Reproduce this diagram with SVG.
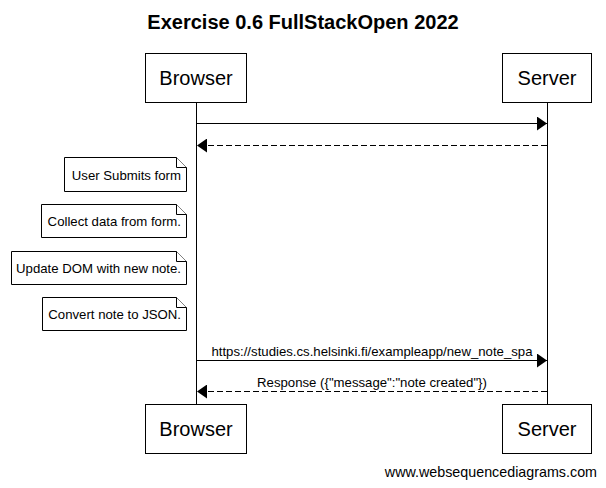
<svg xmlns="http://www.w3.org/2000/svg" width="606" height="488" viewBox="0 0 606 488">
<defs>
<style>
text{font-family:"Liberation Sans",Arial,sans-serif;fill:#000}
.box{fill:#fff;stroke:#000;stroke-width:1}
.part{font-size:20px;text-anchor:middle}
.note{font-size:13.2px;text-anchor:end}
.msg{font-size:13.2px;text-anchor:middle}
.life{stroke:#000;stroke-width:1;fill:none}
.solid{stroke:#000;stroke-width:1;fill:none}
.dash{stroke:#000;stroke-width:1;fill:none;stroke-dasharray:6,3}
.nbox{fill:#fff;stroke:#000;stroke-width:1}
</style>
<marker id="ah" markerWidth="10" markerHeight="14" refX="10" refY="7" orient="auto" markerUnits="userSpaceOnUse">
<path d="M0,0 L10,7 L0,14 Z" fill="#000"/>
</marker>
</defs>
<rect width="606" height="488" fill="#fff"/>
<text x="303" y="29" style="font-size:20px;font-weight:bold" text-anchor="middle">Exercise 0.6 FullStackOpen 2022</text>
<g id="lifelines">
<line class="life" x1="196.5" y1="102" x2="196.5" y2="404"/>
<line class="life" x1="547.5" y1="102" x2="547.5" y2="404"/>
</g>
<g id="browser-top"><rect class="box" x="145.5" y="53.5" width="101" height="49"/><text class="part" x="196" y="85">Browser</text></g>
<g id="server-top"><rect class="box" x="502.5" y="53.5" width="89" height="49"/><text class="part" x="547" y="85">Server</text></g>
<g id="browser-bottom"><rect class="box" x="145.5" y="404.5" width="101" height="49"/><text class="part" x="196" y="436">Browser</text></g>
<g id="server-bottom"><rect class="box" x="502.5" y="404.5" width="89" height="49"/><text class="part" x="547" y="436">Server</text></g>
<g id="note1"><path class="nbox" d="M64.5,157.5 H176.5 L186.5,167.5 V191.5 H64.5 Z"/><path class="nbox" d="M176.5,157.5 V167.5 H186.5" fill="none"/><text class="note" x="181" y="180">User Submits form</text></g>
<g id="note2"><path class="nbox" d="M41.5,204.5 H176.5 L186.5,214.5 V237.5 H41.5 Z"/><path class="nbox" d="M176.5,204.5 V214.5 H186.5" fill="none"/><text class="note" x="181" y="226">Collect data from form.</text></g>
<g id="note3"><path class="nbox" d="M11.5,251.5 H176.5 L186.5,261.5 V284.5 H11.5 Z"/><path class="nbox" d="M176.5,251.5 V261.5 H186.5" fill="none"/><text class="note" x="181" y="273">Update DOM with new note.</text></g>
<g id="note4"><path class="nbox" d="M42.5,297.5 H176.5 L186.5,307.5 V330.5 H42.5 Z"/><path class="nbox" d="M176.5,297.5 V307.5 H186.5" fill="none"/><text class="note" x="181" y="319">Convert note to JSON.</text></g>
<g id="connectors">
<line class="solid" x1="197" y1="123.5" x2="547" y2="123.5" marker-end="url(#ah)"/>
<line class="dash" x1="547" y1="145.5" x2="197" y2="145.5" marker-end="url(#ah)"/>
<line class="solid" x1="197" y1="360.5" x2="547" y2="360.5" marker-end="url(#ah)"/>
<text class="msg" x="372" y="356">https://studies.cs.helsinki.fi/exampleapp/new_note_spa</text>
<line class="dash" x1="547" y1="391.5" x2="197" y2="391.5" marker-end="url(#ah)"/>
<text class="msg" x="372" y="387">Response ({"message":"note created"})</text>
</g>
<text x="597" y="477" style="font-size:14.3px" text-anchor="end">www.websequencediagrams.com</text>
</svg>
